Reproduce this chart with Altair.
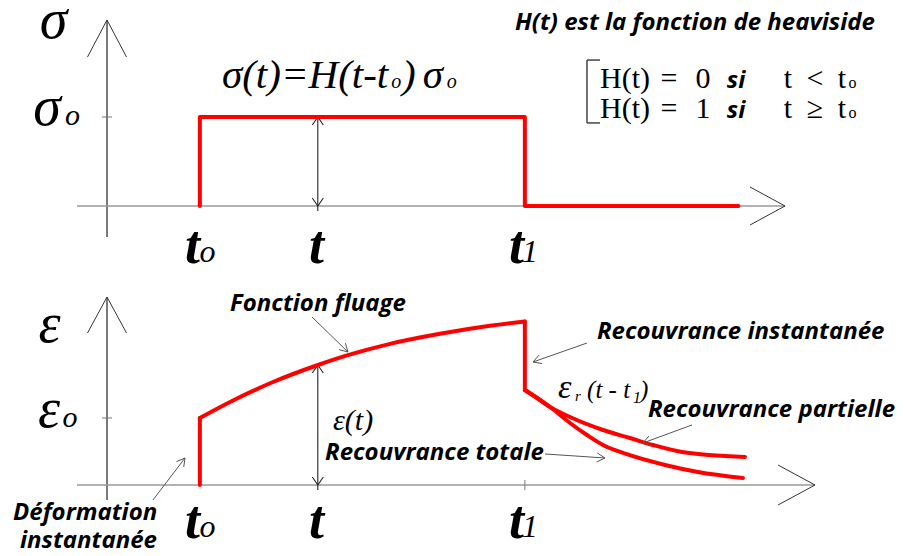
import math
import altair as alt
import pandas as pd

# ---------------- data (time units: t0 = 1, t1 = 4.5 ; sigma0 = eps0 = 1) ----------------
T0, T_MID, T1, T_END = 1.0, 2.27, 4.5, 6.8
SIG0 = 1.0
EPS0 = 1.0

stress_t = [T0, T0, T1, T1, T_END]
stress_v = [0.0, SIG0, SIG0, 0.0, 0.0]

jump_t = [T0, T0]
jump_v = [0.0, EPS0]
creep_t = [1.0, 1.325, 1.788, 2.272, 2.585, 3.048, 3.586, 4.125, 4.5]
creep_v = [1.0, 1.239, 1.537, 1.791, 1.934, 2.107, 2.257, 2.376, 2.440]
drop_t = [T1, T1]
drop_v = [2.440, 1.418]
partial_t = [4.5, 4.663, 4.771, 4.986, 5.342, 5.632, 5.880, 6.192, 6.871]
partial_v = [1.418, 1.269, 1.164, 1.015, 0.821, 0.701, 0.597, 0.493, 0.418]
total_t = [4.5, 4.663, 4.771, 4.986, 5.169, 5.342, 5.589, 6.009, 6.365, 6.849]
total_v = [1.418, 1.269, 1.164, 0.925, 0.746, 0.597, 0.463, 0.299, 0.194, 0.104]
EPS_AT_T = 1.791

# ---------------- frame ----------------
W, H = 888, 540
X_DOM = [-1.0662, 8.4969]
SIG_DOM = [-3.8427, 2.2247]   # stress diagram (upper half)
EPS_DOM = [-0.9403, 7.1194]   # strain diagram (lower half)

RED = "#ff0000"
SERIF = "Liberation Serif"
SANS = "Open Sans"
LBL = 24

xs = alt.Scale(domain=X_DOM, nice=False, zero=False)


def ysc(dom):
    return alt.Scale(domain=dom, nice=False, zero=False)


def enc(ch, ydom):
    return ch.encode(x=alt.X("x:Q", scale=xs, axis=None),
                     y=alt.Y("y:Q", scale=ysc(ydom), axis=None))


def segs(rows, ydom, color, width):
    df = pd.DataFrame(rows, columns=["x", "y", "x2", "y2"])
    ch = alt.Chart(df).mark_rule(color=color, strokeWidth=width)
    return enc(ch, ydom).encode(x2="x2:Q", y2="y2:Q")


def factors(ydom):
    return W / (X_DOM[1] - X_DOM[0]), H / (ydom[1] - ydom[0])


def head_rows(tips, ydom, length, half):
    """tips: (x, y, angle clockwise from 'up' in degrees) -> two arm segments each"""
    kx, ky = factors(ydom)
    rows = []
    for x, y, ang in tips:
        a = math.radians(ang)
        dx, dy = math.sin(a), -math.cos(a)
        nx, ny = math.cos(a), math.sin(a)
        for s in (1, -1):
            px = -length * dx + s * half * nx
            py = -length * dy + s * half * ny
            rows.append((x, y, x + px / kx, y - py / ky))
    return rows


def angle_of(x1, y1, x2, y2, ydom):
    kx, ky = factors(ydom)
    dx = (x2 - x1) * kx
    dy = -(y2 - y1) * ky
    return math.degrees(math.atan2(dx, -dy)) % 360


def arrows(rows, ydom, color="#555", width=1.0):
    tips = [(r[2], r[3], angle_of(*r, ydom)) for r in rows]
    return segs(list(rows) + head_rows(tips, ydom, 8, 4.5), ydom, color, width)


def texts(rows, ydom, size, font, style="normal", weight="normal", align="left", color="black"):
    df = pd.DataFrame(rows, columns=["x", "y", "label"])
    ch = alt.Chart(df).mark_text(font=font, fontSize=size, fontStyle=style, fontWeight=weight,
                                 align=align, baseline="alphabetic", color=color)
    return enc(ch, ydom).encode(text="label:N")


def curve(ts, vs, ydom, interp="linear"):
    df = pd.DataFrame({"x": ts, "y": vs, "i": list(range(len(ts)))})
    ch = alt.Chart(df).mark_line(color=RED, strokeWidth=4, interpolate=interp,
                                 strokeCap="round", strokeJoin="round")
    return enc(ch, ydom).encode(order="i:Q")


# ---------------- upper diagram: stress ----------------
S = SIG_DOM
top_layers = [
    segs([(0, -0.348, 0, 2.090)], S, "#222", 1.2),
    segs([(-0.323, 0, 7.302, 0)], S, "#999", 1.5),
    segs(head_rows([(0, 2.090, 0)], S, 37, 19.5) +
         head_rows([(7.302, 0, 90)], S, 35, 19), S, "#333", 1),
    segs([(-0.054, SIG0, 0.054, SIG0)], S, "#777", 1),
    segs([(T_MID, -0.056, T_MID, SIG0)] +
         head_rows([(T_MID, SIG0, 0), (T_MID, 0, 180)], S, 8, 5.5), S, "#222", 1.1),
    curve(stress_t, stress_v, S),
    segs([(5.169, 1.640, 5.169, 0.933), (5.169, 1.640, 5.309, 1.640), (5.169, 0.933, 5.309, 0.933)],
         S, "#444", 1.5),
    texts([(-0.576, 1.888, "σ"), (-0.646, 0.910, "σ")], S, 56, SERIF, "italic", align="center"),
    texts([(-0.372, 0.910, "o")], S, 30, SERIF, "italic", align="center"),
    texts([(0.921, -0.640, "t"), (2.256, -0.640, "t"), (4.410, -0.640, "t")], S, 54, SERIF,
          "italic", "bold", align="center"),
    texts([(1.082, -0.629, "o"), (4.555, -0.629, "1")], S, 32, SERIF, "italic", align="center"),
    texts([(1.238, 1.326, "σ(t)=H(t-t"), (3.177, 1.326, ")"), (3.40, 1.326, "σ")], S, 41, SERIF,
          "italic"),
    texts([(3.06, 1.326, "o"), (3.66, 1.326, "o")], S, 20, SERIF, "italic"),
    texts([(4.394, 1.978, "H(t) est la fonction de heaviside")], S, LBL, SANS, "italic", "bold"),
    texts([(5.309, 1.326, "H(t)"), (5.309, 0.989, "H(t)")], S, 30, SERIF),
    texts([(6.052, 1.326, "="), (6.052, 0.989, "="), (6.419, 1.326, "0"), (6.419, 0.989, "1"),
           (7.334, 1.326, "t"), (7.334, 0.989, "t"), (7.625, 1.326, "<"), (7.625, 0.989, "≥"),
           (7.915, 1.326, "t"), (7.915, 0.989, "t")], S, 30, SERIF, align="center"),
    texts([(8.028, 1.326, "o"), (8.028, 0.989, "o")], S, 16, SERIF, align="center"),
    texts([(6.774, 1.326, "si"), (6.774, 0.989, "si")], S, LBL, SANS, "italic", "bold", align="center"),
]
top = alt.layer(*top_layers)

# ---------------- lower diagram: strain ----------------
E = EPS_DOM
bot_layers = [
    segs([(0, -0.224, 0, 2.806)], E, "#222", 1.2),
    segs([(-0.323, 0, 7.625, 0)], E, "#999", 1.5),
    segs(head_rows([(0, 2.806, 0)], E, 36, 19.5) +
         head_rows([(7.625, 0, 90)], E, 37, 20), E, "#333", 1),
    segs([(-0.054, EPS0, 0.054, EPS0), (T1, -0.075, T1, 0.075)], E, "#777", 1),
    segs([(T_MID, -0.075, T_MID, EPS_AT_T)] +
         head_rows([(T_MID, EPS_AT_T, 0), (T_MID, 0, 180)], E, 8, 5.5), E, "#222", 1.1),
    curve(jump_t, jump_v, E),
    curve(creep_t, creep_v, E, "monotone"),
    curve(drop_t, drop_v, E),
    curve(partial_t, partial_v, E, "monotone"),
    curve(total_t, total_v, E, "monotone"),
    arrows([(2.208, 2.507, 2.595, 1.985), (0.495, -0.224, 0.840, 0.403),
            (5.169, 2.119, 4.588, 1.836), (6.300, 0.896, 5.772, 0.627),
            (4.717, 0.463, 5.363, 0.403)], E),
    texts([(-0.619, 2.134, "ε"), (-0.625, 0.866, "ε")], E, 56, SERIF, "italic", align="center"),
    texts([(-0.398, 0.866, "o")], E, 30, SERIF, "italic", align="center"),
    texts([(0.921, -0.791, "t"), (2.256, -0.791, "t"), (4.410, -0.791, "t")], E, 54, SERIF,
          "italic", "bold", align="center"),
    texts([(1.082, -0.780, "o"), (4.555, -0.780, "1")], E, 32, SERIF, "italic", align="center"),
    texts([(2.434, 0.821, "ε(t)")], E, 30, SERIF, "italic"),
    texts([(4.857, 1.299, "ε")], E, 34, SERIF, "italic"),
    texts([(5.040, 1.254, "r")], E, 15, SERIF, "italic"),
    texts([(5.170, 1.299, "(t - t"), (5.740, 1.299, ")")], E, 25, SERIF, "italic"),
    texts([(5.665, 1.224, "1")], E, 16, SERIF, "italic"),
    texts([(1.325, 2.597, "Fonction fluage"), (5.277, 2.179, "Recouvrance instantanée"),
           (5.826, 1.015, "Recouvrance partielle"), (2.348, 0.373, "Recouvrance totale"),
           (-1.012, -0.522, "Déformation"), (-0.937, -0.940, "instantanée")],
          E, LBL, SANS, "italic", "bold"),
]
bottom = alt.layer(*bot_layers)

chart = (
    alt.layer(top, bottom)
    .resolve_scale(y="independent")
    .properties(width=W, height=H, padding=0, autosize=alt.AutoSizeParams(type="none"))
    .configure_view(stroke=None)
)
chart.save("out.html", embed_options={"renderer": "svg", "actions": False})
